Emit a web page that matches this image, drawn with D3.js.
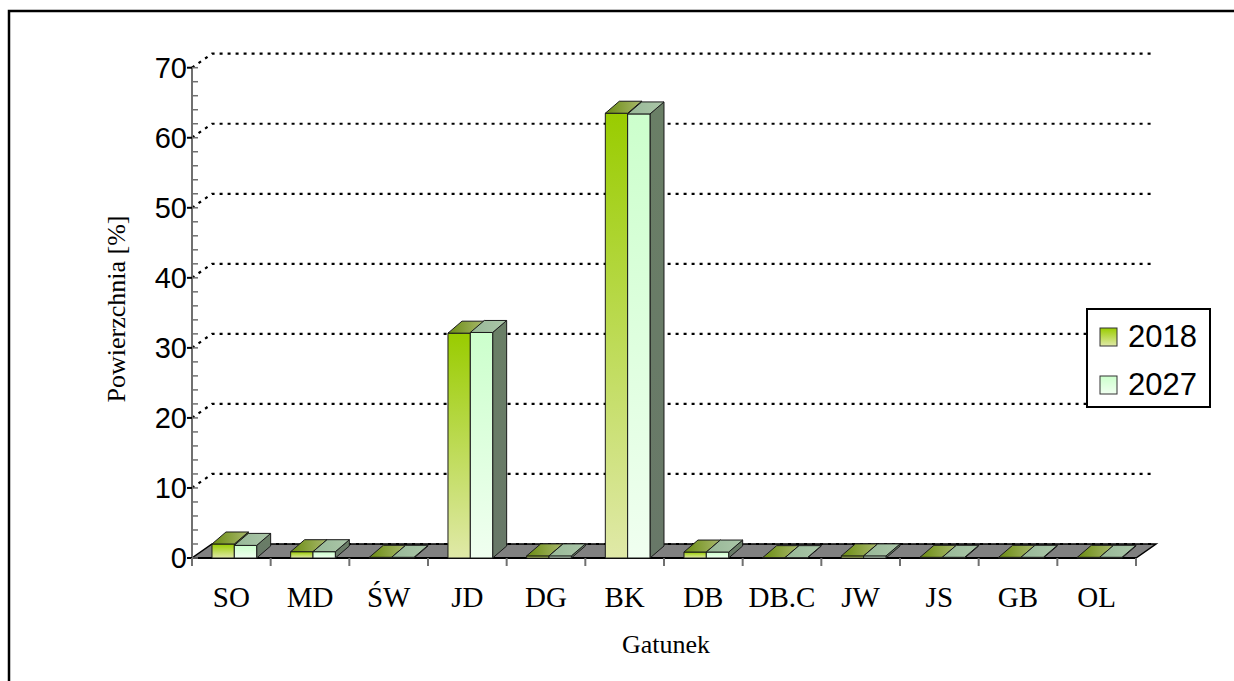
<!DOCTYPE html>
<html>
<head>
<meta charset="utf-8">
<script src="https://cdn.jsdelivr.net/npm/d3@7"></script>
<style>
  html, body { margin: 0; padding: 0; background: #fff; }
  svg { display: block; }
</style>
</head>
<body>
<svg id="chart" width="1234" height="681"></svg>
<script>
// Udział gatunków w powierzchni [%]
const categories = ["SO", "MD", "ŚW", "JD", "DG", "BK", "DB", "DB.C", "JW", "JS", "GB", "OL"];
const values2018 = [2.0, 0.9, 0.1, 32.1, 0.3, 63.5, 0.85, 0.05, 0.3, 0.1, 0.1, 0.1];
const values2027 = [1.8, 0.9, 0.1, 32.2, 0.3, 63.4, 0.85, 0.05, 0.3, 0.1, 0.1, 0.1];
const seriesNames = ["2018", "2027"];
const yTicks = [0, 10, 20, 30, 40, 50, 60, 70];
const yTitle = "Powierzchnia [%]";
const xTitle = "Gatunek";

const svg = d3.select("#chart");
const serif = "'Liberation Serif', 'Times New Roman', serif";
const sans = "'Liberation Sans', Arial, sans-serif";

// plot geometry
const plotLeft = 192, plotRight = 1136, plotBase = 558, plotTop = 67.7;
const wallDx = 20, wallDy = -14;   // depth of floor / back wall
const barDx = 14, barDy = -12;     // depth of each bar

const x = d3.scaleBand().domain(categories).range([plotLeft, plotRight]).padding(0);
const y = d3.scaleLinear().domain([0, 70]).range([plotBase, plotTop]);
const bw = x.bandwidth();
const barW = bw * 0.284;
const barOff = bw * 0.254;

// gradients
const defs = svg.append("defs");
function grad(id, stops, x2, y2) {
  const g = defs.append("linearGradient").attr("id", id)
    .attr("x1", 0).attr("y1", 0).attr("x2", x2).attr("y2", y2);
  stops.forEach(([o, c]) => g.append("stop").attr("offset", o).attr("stop-color", c));
}
grad("front2018", [[0, "#99cc00"], [1, "#e0e9a8"]], 0, 1);
grad("front2027", [[0, "#ccffcc"], [1, "#f0fff0"]], 0, 1);
grad("top2018", [[0, "#6b8c12"], [1, "#a8b86c"]], 1, 0);
grad("top2027", [[0, "#97b897"], [1, "#abc6a8"]], 1, 0);
grad("side2018", [[0, "#5f7a20"], [1, "#6f8050"]], 0, 1);
grad("side2027", [[0, "#6a7f66"], [1, "#687868"]], 0, 1);
grad("leg2018", [[0, "#99cc00"], [1, "#e0e9a8"]], 0, 1);
grad("leg2027", [[0, "#ccffcc"], [1, "#f0fff0"]], 0, 1);

// outer frame
svg.append("rect")
  .attr("x", 9).attr("y", 11).attr("width", 1260).attr("height", 720)
  .attr("fill", "none").attr("stroke", "#000").attr("stroke-width", 2.5);

// back-wall gridlines with diagonal connectors
const grid = svg.append("g").attr("stroke", "#000").attr("stroke-width", 2.2)
  .attr("stroke-dasharray", "3,5").attr("fill", "none");
yTicks.filter(t => t > 0).forEach(t => {
  grid.append("path")
    .attr("d", `M${plotLeft},${y(t)} L${plotLeft + wallDx},${y(t) + wallDy} L${plotRight + wallDx - 4},${y(t) + wallDy}`);
});

// floor
svg.append("path")
  .attr("d", `M${plotLeft},${plotBase} L${plotRight},${plotBase} L${plotRight + wallDx},${plotBase + wallDy} L${plotLeft + wallDx},${plotBase + wallDy} Z`)
  .attr("fill", "#808080").attr("stroke", "#000").attr("stroke-width", 1.5);
svg.append("path")
  .attr("d", `M${plotLeft + wallDx},${plotBase + wallDy} L${plotRight + wallDx},${plotBase + wallDy}`)
  .attr("stroke", "#000").attr("stroke-width", 2.2).attr("stroke-dasharray", "3,5").attr("fill", "none");
svg.append("line")
  .attr("x1", plotLeft).attr("x2", plotRight).attr("y1", plotBase).attr("y2", plotBase)
  .attr("stroke", "#000").attr("stroke-width", 2);

// 3D bars
const bars = svg.append("g").attr("stroke", "#1a1a1a").attr("stroke-width", 1).attr("stroke-linejoin", "round");
function bar3d(x0, v, key) {
  const yt = y(v), x1 = x0 + barW;
  const g = bars.append("g");
  g.append("path") // side
    .attr("d", `M${x1},${yt} L${x1 + barDx},${yt + barDy} L${x1 + barDx},${plotBase + barDy} L${x1},${plotBase} Z`)
    .attr("fill", `url(#side${key})`);
  g.append("rect") // front
    .attr("x", x0).attr("y", yt).attr("width", barW).attr("height", Math.max(plotBase - yt, 0))
    .attr("fill", `url(#front${key})`);
  g.append("path") // top
    .attr("d", `M${x0},${yt} L${x0 + barDx},${yt + barDy} L${x1 + barDx},${yt + barDy} L${x1},${yt} Z`)
    .attr("fill", `url(#top${key})`);
}
categories.forEach((c, i) => {
  const x0 = x(c) + barOff;
  bar3d(x0, values2018[i], "2018");
  bar3d(x0 + barW, values2027[i], "2027");
});

// y axis
const yAxis = svg.append("g");
yAxis.append("line").attr("x1", plotLeft).attr("x2", plotLeft).attr("y1", plotBase).attr("y2", plotTop)
  .attr("stroke", "#707070").attr("stroke-width", 2);
d3.range(0, 71, 2).forEach(t => {
  yAxis.append("line").attr("x1", plotLeft).attr("x2", plotLeft + 6).attr("y1", y(t)).attr("y2", y(t))
    .attr("stroke", "#707070").attr("stroke-width", 1.5);
});
yTicks.forEach(t => {
  yAxis.append("line").attr("x1", plotLeft - 5).attr("x2", plotLeft).attr("y1", y(t)).attr("y2", y(t))
    .attr("stroke", "#000").attr("stroke-width", 2);
  yAxis.append("text").attr("x", plotLeft - 5).attr("y", y(t)).attr("dy", "0.36em")
    .attr("text-anchor", "end").attr("font-family", sans).attr("font-size", 29)
    .text(t);
});

// x axis ticks and labels
const xAxis = svg.append("g");
categories.concat([null]).forEach(c => {
  const xv = c === null ? plotRight : x(c);
  xAxis.append("line").attr("x1", xv).attr("x2", xv).attr("y1", plotBase).attr("y2", plotBase + 8)
    .attr("stroke", "#707070").attr("stroke-width", 2);
});
categories.forEach(c => {
  xAxis.append("text").attr("x", x(c) + bw / 2).attr("y", 607)
    .attr("text-anchor", "middle").attr("font-family", serif).attr("font-size", 29)
    .text(c);
});

// axis titles
svg.append("text").attr("x", 666).attr("y", 653).attr("text-anchor", "middle")
  .attr("font-family", serif).attr("font-size", 26).text(xTitle);
svg.append("text").attr("transform", "translate(125,309) rotate(-90)").attr("text-anchor", "middle")
  .attr("font-family", serif).attr("font-size", 26).text(yTitle);

// legend
const legend = svg.append("g");
legend.append("rect").attr("x", 1087).attr("y", 309).attr("width", 123).attr("height", 98)
  .attr("fill", "#fff").attr("stroke", "#000").attr("stroke-width", 2);
seriesNames.forEach((s, i) => {
  const yy = 328 + i * 48;
  legend.append("rect").attr("x", 1100).attr("y", yy).attr("width", 17).attr("height", 18)
    .attr("fill", `url(#leg${s})`).attr("stroke", "#333").attr("stroke-width", 1);
  legend.append("text").attr("x", 1128).attr("y", yy + 19)
    .attr("font-family", sans).attr("font-size", 31).text(s);
});
</script>
</body>
</html>
